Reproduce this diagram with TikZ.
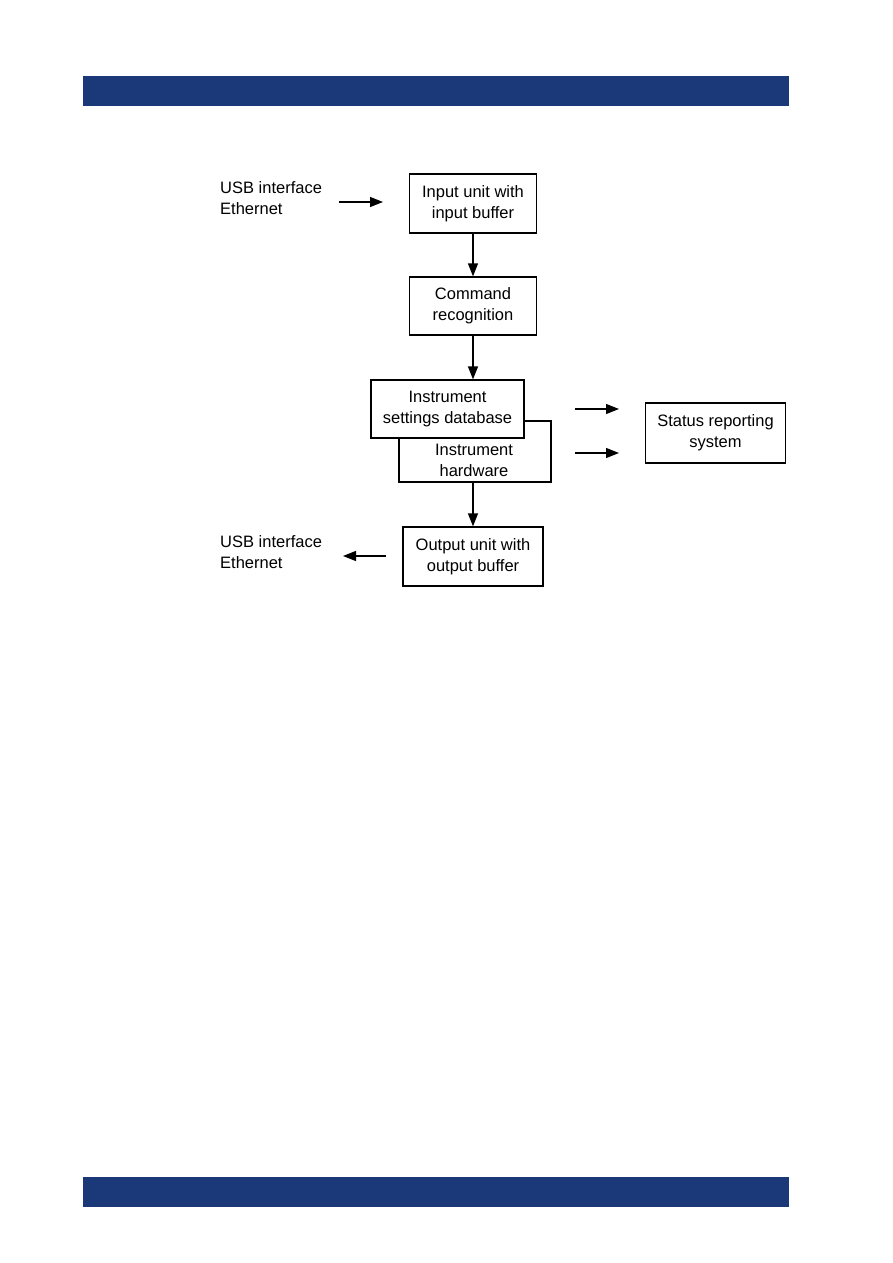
\documentclass[tikz,border=0pt]{standalone}
\usepackage{fontspec}
\setmainfont{Liberation Sans}
\usetikzlibrary{arrows.meta}
\definecolor{barblue}{RGB}{27,56,120}
\begin{document}
\begin{tikzpicture}[x=1pt,y=-1pt,
  box/.style={draw,line width=1.2pt,fill=white,inner sep=0pt,align=center,font=\fontsize{16.5}{21}\selectfont},
  lbl/.style={inner sep=0pt,align=left,anchor=north west,font=\fontsize{16.5}{21}\selectfont},
  txt/.style={inner sep=0pt,align=center,font=\fontsize{16.5}{21}\selectfont},
  arr/.style={line width=1.3pt,-{Triangle[length=13pt,width=10pt]}}]
\useasboundingbox (0,0) rectangle (893,1263);
\fill[barblue] (83,76) rectangle (789,106);
\fill[barblue] (83,1177) rectangle (789,1207);
% boxes
\node[box,minimum width=127,minimum height=59] (in) at (473,203.5) {Input unit with\\input buffer};
\node[box,minimum width=127,minimum height=58] (cmd) at (473,306) {Command\\recognition};
\node[box,minimum width=152,minimum height=61] (hw) at (475,451.5) {};
\node[txt] (hwt) at (474,460.5) {Instrument\\hardware};
\node[box,minimum width=153,minimum height=58] (set) at (447.5,409) {Instrument\\settings database};
\node[box,minimum width=140,minimum height=60] (st) at (715.5,433) {Status reporting\\system};
\node[box,minimum width=140,minimum height=59] (out) at (473,556.5) {Output unit with\\output buffer};
% labels
\node[lbl] (usbin) at (220,181) {USB interface\\Ethernet};
\node[lbl] (usbout) at (220,535) {USB interface\\Ethernet};
% coordinates
\coordinate (a1s) at (339,202);
\coordinate (a1e) at (383,202);
\coordinate (a2s) at (575,409);
\coordinate (a2e) at (619,409);
\coordinate (a3s) at (575,453);
\coordinate (a3e) at (619,453);
\coordinate (a4s) at (386,556);
\coordinate (a4e) at (343,556);
% arrows
\draw[arr] (a1s) -- (a1e);
\draw[arr] (in.south) -- (in.south |- cmd.north);
\draw[arr] (cmd.south) -- (cmd.south |- set.north);
\draw[arr] (out.north |- hw.south) -- (out.north);
\draw[arr] (a2s) -- (a2e);
\draw[arr] (a3s) -- (a3e);
\draw[arr] (a4s) -- (a4e);
\end{tikzpicture}
\end{document}
